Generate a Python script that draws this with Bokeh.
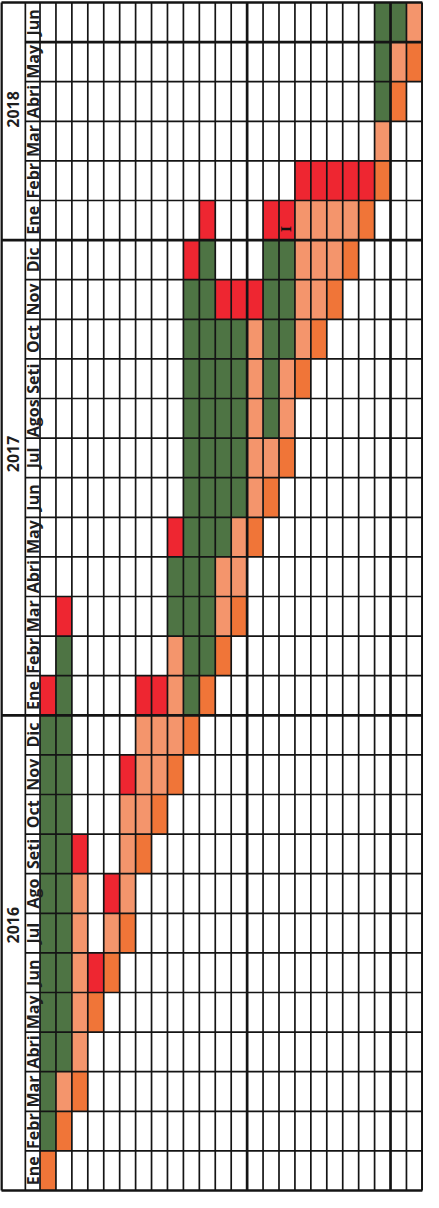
import math
from bokeh.plotting import figure
from bokeh.models import Range1d, ColumnDataSource
from bokeh.core.properties import value
from bokeh.embed import file_html
from bokeh.resources import INLINE

# ---- data -------------------------------------------------------------
years = ["2016", "2017", "2018"]
year_label_pos = [6.7, 18.6, 27.3]          # month-index where each year label sits
months = ["Ene", "Febr", "Mar", "Abri", "May", "Jun", "Jul", "Ago", "Seti", "Oct", "Nov", "Dic",
          "Ene", "Febr", "Mar", "Abri", "May", "Jun", "Jul", "Agos", "Seti", "Oct", "Nov", "Dic",
          "Ene", "Febr", "Mar", "Abri", "May", "Jun"]
n_cols = 24
# one string per month (bottom = Ene 2016), one char per column
# G = green, S = salmon, O = orange, R = red, . = empty
schedule = [
    "O.......................",
    "GO......................",
    "GSO.....................",
    "GGS.....................",
    "GGSO....................",
    "GGSRO...................",
    "GGS.SO..................",
    "GGS.RS..................",
    "GGR..SO.................",
    "GG...SSO................",
    "GG...RSSO...............",
    "GG....SSSO..............",
    "RG....RRSGO.............",
    ".G......SGGO............",
    ".R......GGGSO...........",
    "........GGGSS...........",
    "........RGGGSO..........",
    ".........GGGGSO.........",
    ".........GGGGSSO........",
    ".........GGGGSGS........",
    ".........GGGGSGSO.......",
    ".........GGGGSGGSO......",
    ".........GGRRRGGSSO.....",
    ".........RG...GGSSSO....",
    "..........R...RRSSSSO...",
    "................RRRRRO..",
    ".....................S..",
    ".....................GO.",
    ".....................GSO",
    ".....................GGS",
]
status_colors = {"G": "#4e7444", "S": "#f4956c", "O": "#f07538", "R": "#ee2631"}
mark_col, mark_month, mark_text = 15, 24, "I"

# ---- build -------------------------------------------------------------
MONTH_W = 0.92   # month-label column width (in column units)
YEAR_W = 1.5     # year-label column width
left_edge = -(MONTH_W + YEAR_W)
n_months = len(months)

p = figure(width=423, height=1192,
           x_range=Range1d(left_edge - 0.06, n_cols + 0.07),
           y_range=Range1d(-0.05, n_months + 0.05),
           output_backend="svg", toolbar_location=None,
           x_axis_location=None, y_axis_location=None,
           min_border=0)
p.grid.visible = False
p.outline_line_color = None
p.background_fill_color = "white"

# cells
cx, cy, cc = [], [], []
for m, row in enumerate(schedule):
    row = row.ljust(n_cols, ".")[:n_cols]
    for c, ch in enumerate(row):
        if ch in status_colors:
            cx.append(c)
            cy.append(m)
            cc.append(status_colors[ch])
src = ColumnDataSource(dict(left=cx, right=[v + 1 for v in cx], bottom=cy,
                            top=[v + 1 for v in cy], color=cc))
p.quad(left="left", right="right", bottom="bottom", top="top", fill_color="color",
       line_color=None, source=src)

# grid lines
thin, thick = 1.7, 2.7
lc = "#141414"
x0s, y0s, x1s, y1s, ws = [], [], [], [], []
def seg(xa, ya, xb, yb, w):
    x0s.append(xa); y0s.append(ya); x1s.append(xb); y1s.append(yb); ws.append(w)

for k in range(n_cols + 1):
    seg(k, 0, k, n_months, thick if k in (13, 22, n_cols) else thin)
seg(-MONTH_W, 0, -MONTH_W, n_months, thin)
seg(left_edge, 0, left_edge, n_months, thick)
for m in range(n_months + 1):
    if m in (0, 12, 24, n_months):
        seg(left_edge, m, n_cols, m, thick)
    else:
        seg(-MONTH_W, m, n_cols, m, thick if m == 29 else thin)
p.segment(x0="x0", y0="y0", x1="x1", y1="y1", line_width="w", line_color=lc,
          source=ColumnDataSource(dict(x0=x0s, y0=y0s, x1=x1s, y1=y1s, w=ws)))

# month labels
p.text(x=[-MONTH_W / 2] * n_months, y=[m + 0.5 for m in range(n_months)], text=months,
       angle=math.pi / 2, text_align="center", text_baseline="middle",
       text_font=value("Open Sans"), text_font_style="bold", text_font_size="16px",
       text_color="#1e1e1e")
# year labels
p.text(x=[left_edge + YEAR_W / 2] * len(years), y=year_label_pos, text=years,
       angle=math.pi / 2, text_align="center", text_baseline="middle",
       text_font=value("Open Sans"), text_font_style="bold", text_font_size="16px",
       text_color="#1e1e1e")
# small cursor mark
p.text(x=[mark_col + 0.45], y=[mark_month + 0.28], text=[mark_text], angle=math.pi / 2,
       text_align="center", text_baseline="middle", text_font=value("DejaVu Serif"),
       text_font_style="bold", text_font_size="13px", text_color="#111111")

open("out.html", "w").write(file_html(p, INLINE))
